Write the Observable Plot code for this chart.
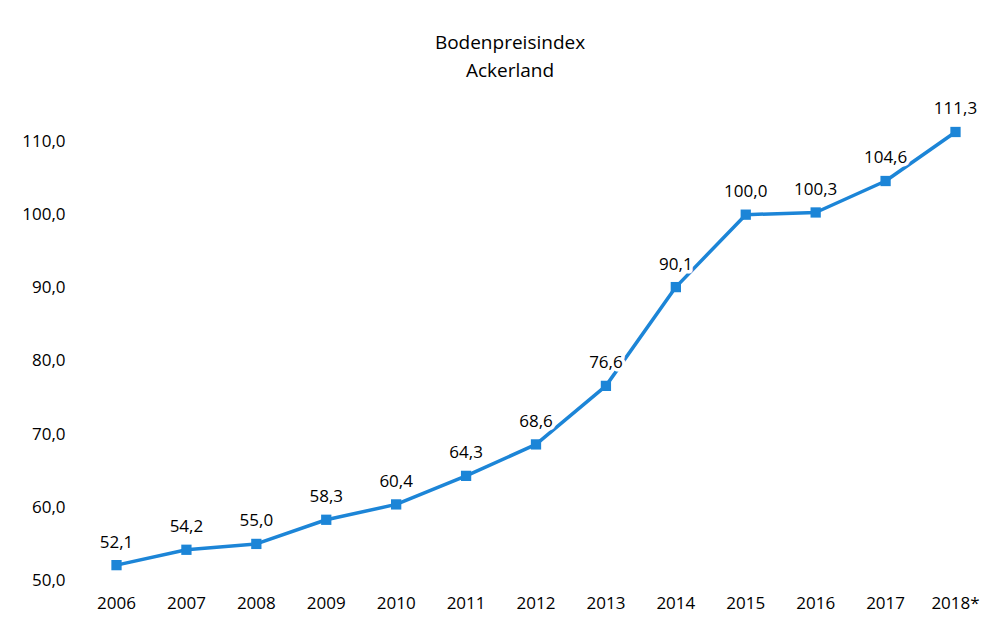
<!DOCTYPE html>
<html>
<head>
<meta charset="utf-8">
<script src="https://cdn.jsdelivr.net/npm/d3@7"></script>
<script src="https://cdn.jsdelivr.net/npm/@observablehq/plot@0.6"></script>
<style>
  html, body { margin: 0; padding: 0; background: #fff; }
  #title { width: 1000px; padding-top: 28px; height: 56px; text-align: center; font-family: "Open Sans", sans-serif; font-size: 19px; line-height: 28px; color: #000; box-sizing: content-box; }
  #title div { transform: translateX(10px); }
</style>
</head>
<body>
<div id="title"><div>Bodenpreisindex</div><div>Ackerland</div></div>
<div id="chart"></div>
<script>
const years = ["2006","2007","2008","2009","2010","2011","2012","2013","2014","2015","2016","2017","2018*"];
const values = [52.1, 54.2, 55.0, 58.3, 60.4, 64.3, 68.6, 76.6, 90.1, 100.0, 100.3, 104.6, 111.3];
const yTicks = [50, 60, 70, 80, 90, 100, 110];

const data = years.map((y, i) => ({year: y, value: values[i]}));
const fmt = v => v.toFixed(1).replace(".", ",");
const blue = "#1c85d7";

const chart = Plot.plot({
  width: 1000,
  height: 535,
  marginTop: 57,
  marginBottom: 39,
  marginLeft: 116,
  marginRight: 45,
  style: {fontFamily: "'Open Sans', sans-serif", fontSize: "17px", color: "#000", background: "#fff"},
  x: {type: "point", domain: years, padding: 0, round: false, label: null},
  y: {domain: [50, 110], label: null},
  marks: [
    Plot.axisX({tickSize: 0, tickPadding: 16, fontSize: 17, fill: "#000"}),
    Plot.axisY({ticks: yTicks, tickFormat: fmt, tickSize: 0, tickPadding: 51, fontSize: 17, fill: "#000"}),
    Plot.line(data, {x: "year", y: "value", stroke: blue, strokeWidth: 3.5}),
    Plot.dot(data, {x: "year", y: "value", symbol: "square", r: 5.8, fill: blue, stroke: "none"}),
    Plot.text(data, {x: "year", y: "value", text: d => fmt(d.value), dy: -23, fontSize: 17, fill: "#000", stroke: "white", strokeWidth: 7})
  ]
});
document.getElementById("chart").appendChild(chart);
</script>
</body>
</html>
